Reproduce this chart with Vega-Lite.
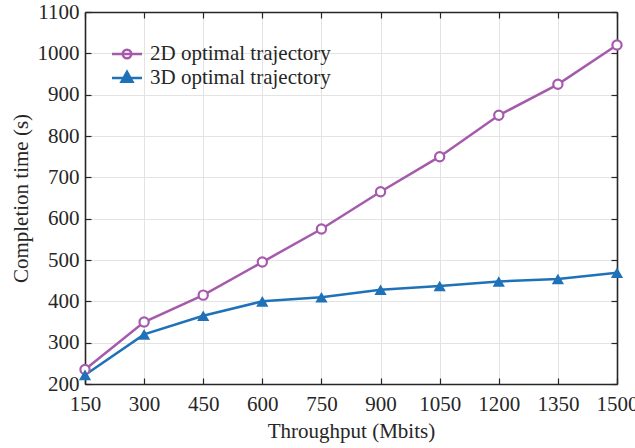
{
  "$schema": "https://vega.github.io/schema/vega-lite/v6.json",
  "autosize": "none",
  "width": 532,
  "height": 372,
  "padding": {"left": 85, "top": 12, "right": 18, "bottom": 64},
  "background": "white",
  "config": {
    "view": {"stroke": null},
    "font": "Liberation Serif",
    "style": {
      "guide-title": {"font": "Liberation Serif", "fontSize": 21, "fontWeight": "normal", "fill": "#262626"},
      "guide-label": {"font": "Liberation Serif", "fontSize": 21, "fill": "#262626"}
    },
    "axis": {
      "labelFont": "Liberation Serif",
      "titleFont": "Liberation Serif",
      "labelFontSize": 21,
      "titleFontSize": 21,
      "titleFontWeight": "normal",
      "labelColor": "#262626",
      "titleColor": "#262626",
      "domainColor": "#262626",
      "domainWidth": 1.6,
      "tickColor": "#262626",
      "tickWidth": 1.2,
      "gridColor": "#e3e3e3",
      "gridWidth": 1
    },
    "legend": {"labelFont": "Liberation Serif", "labelFontSize": 21, "labelColor": "#262626", "labelLimit": 0}
  },
  "data": {
    "values": [
      {"throughput": 150, "time": 235, "series": "2D optimal trajectory"},
      {"throughput": 300, "time": 350, "series": "2D optimal trajectory"},
      {"throughput": 450, "time": 415, "series": "2D optimal trajectory"},
      {"throughput": 600, "time": 495, "series": "2D optimal trajectory"},
      {"throughput": 750, "time": 575, "series": "2D optimal trajectory"},
      {"throughput": 900, "time": 665, "series": "2D optimal trajectory"},
      {"throughput": 1050, "time": 750, "series": "2D optimal trajectory"},
      {"throughput": 1200, "time": 850, "series": "2D optimal trajectory"},
      {"throughput": 1350, "time": 925, "series": "2D optimal trajectory"},
      {"throughput": 1500, "time": 1020, "series": "2D optimal trajectory"},
      {"throughput": 150, "time": 222, "series": "3D optimal trajectory"},
      {"throughput": 300, "time": 320, "series": "3D optimal trajectory"},
      {"throughput": 450, "time": 365, "series": "3D optimal trajectory"},
      {"throughput": 600, "time": 400, "series": "3D optimal trajectory"},
      {"throughput": 750, "time": 410, "series": "3D optimal trajectory"},
      {"throughput": 900, "time": 428, "series": "3D optimal trajectory"},
      {"throughput": 1050, "time": 437, "series": "3D optimal trajectory"},
      {"throughput": 1200, "time": 448, "series": "3D optimal trajectory"},
      {"throughput": 1350, "time": 454, "series": "3D optimal trajectory"},
      {"throughput": 1500, "time": 469, "series": "3D optimal trajectory"}
    ]
  },
  "resolve": {"axis": {"x": "independent", "y": "independent"}},
  "layer": [
    {
      "layer": [
        {
          "mark": {"type": "line", "strokeWidth": 2.5},
          "encoding": {
            "x": {"field": "throughput", "type": "quantitative",
              "scale": {"domain": [150, 1500], "nice": false, "zero": false},
              "axis": {"values": [150, 300, 450, 600, 750, 900, 1050, 1200, 1350, 1500], "format": "d", "title": "Throughput (Mbits)", "tickSize": -6, "labelPadding": 15, "titlePadding": 6, "labelFlush": false}},
            "y": {"field": "time", "type": "quantitative",
              "scale": {"domain": [200, 1100], "nice": false, "zero": false},
              "axis": {"values": [200, 300, 400, 500, 600, 700, 800, 900, 1000, 1100], "format": "d", "title": "Completion time (s)", "tickSize": -6, "labelPadding": 12, "titlePadding": 6, "labelFlush": false}},
            "color": {"field": "series", "type": "nominal",
              "scale": {"domain": ["2D optimal trajectory", "3D optimal trajectory"], "range": ["#A55AAC", "#1F72B8"]},
              "legend": {"title": null, "orient": "none", "legendX": 28, "legendY": 28, "symbolSize": 625, "symbolStrokeWidth": 2.5, "rowPadding": 0, "labelOffset": 9, "labelLimit": 0,
                "encode": {"symbols": {"update": {
                  "shape": {"signal": "datum.value === '2D optimal trajectory' ? 'M-1.2,0L1.2,0M0.34,0A0.34,0.34 0 1,1 -0.34,0A0.34,0.34 0 1,1 0.34,0' : 'M-1.2,0L1.2,0M0,-0.5L0.44,0.3L-0.44,0.3Z'"},
                  "fill": {"signal": "datum.value === '2D optimal trajectory' ? 'white' : '#1F72B8'"},
                  "fillOpacity": {"value": 1}
                }}}}}
          }
        },
        {
          "transform": [{"filter": "datum.series === '2D optimal trajectory'"}],
          "mark": {"type": "point", "shape": "circle", "filled": false, "size": 85, "strokeWidth": 2.2, "color": "#A55AAC", "fill": "white", "fillOpacity": 1},
          "encoding": {
            "x": {"field": "throughput", "type": "quantitative"},
            "y": {"field": "time", "type": "quantitative"}
          }
        },
        {
          "transform": [{"filter": "datum.series === '3D optimal trajectory'"}],
          "mark": {"type": "point", "shape": "triangle-up", "filled": true, "size": 150, "color": "#1F72B8", "opacity": 1},
          "encoding": {
            "x": {"field": "throughput", "type": "quantitative"},
            "y": {"field": "time", "type": "quantitative"}
          }
        }
      ]
    },
    {
      "mark": {"type": "line", "opacity": 0},
      "encoding": {
        "x": {"field": "throughput", "type": "quantitative",
          "axis": {"orient": "top", "values": [150, 300, 450, 600, 750, 900, 1050, 1200, 1350, 1500], "labels": false, "title": null, "grid": false, "tickSize": -6}},
        "y": {"field": "time", "type": "quantitative",
          "axis": {"orient": "right", "values": [200, 300, 400, 500, 600, 700, 800, 900, 1000, 1100], "labels": false, "title": null, "grid": false, "tickSize": -6}},
        "detail": {"field": "series"}
      }
    }
  ]
}
